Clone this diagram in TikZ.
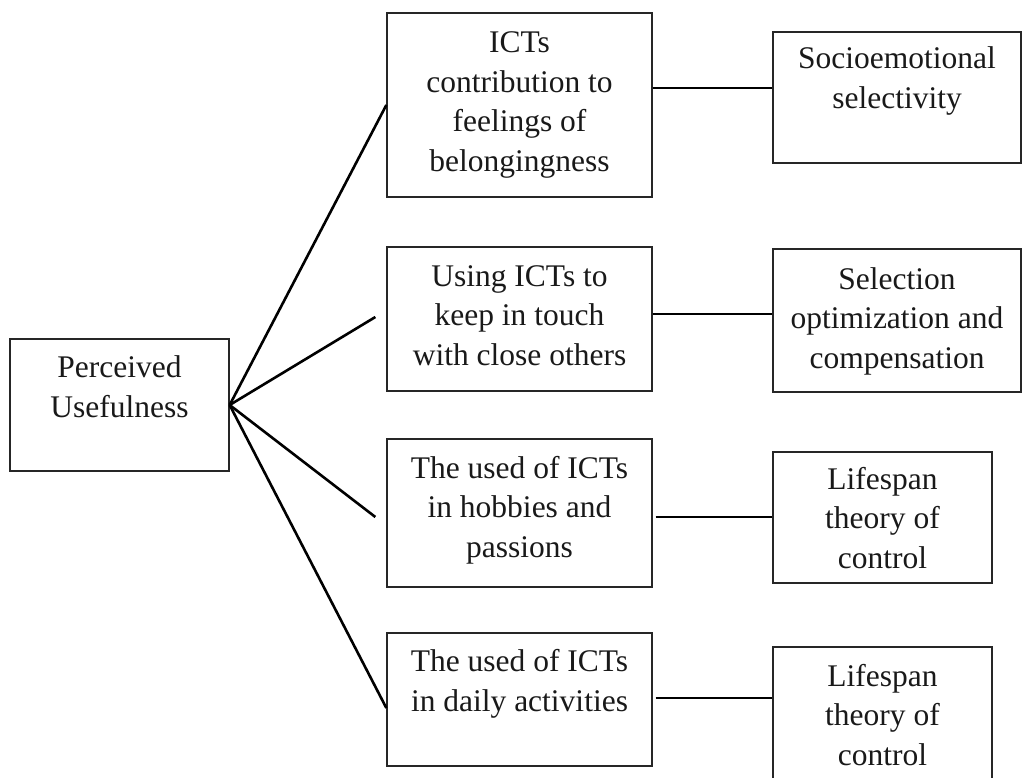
\documentclass[tikz,border=0pt]{standalone}
\usepackage{fontspec}
\setmainfont{Liberation Serif}
\usetikzlibrary{calc}
\tikzset{
  boxnode/.style={draw=black!85, line width=1.3pt, inner sep=0pt, fill=none},
  txt/.style={align=center, inner sep=0pt, anchor=base, font=\fontsize{31.5}{39.5}\selectfont, text=black!90},
  conn/.style={line width=2.6pt, black}
}
\begin{document}
\begin{tikzpicture}[x=1pt,y=-1pt]
\useasboundingbox (0,0) rectangle (1022,777);
\clip (0,0) rectangle (1022,777);
% left
\node[boxnode, minimum width=219pt, minimum height=132pt] (pu) at (119.5,405) {};
\node[txt] at (119.5,417) {Perceived\\Usefulness};
% middle
\node[boxnode, minimum width=265pt, minimum height=184pt] (m1) at (519.5,105) {};
\node[txt] at (519.5,171) {ICTs\\contribution to\\feelings of\\belongingness};
\node[boxnode, minimum width=265pt, minimum height=144pt] (m2) at (519.5,319) {};
\node[txt] at (519.5,365) {Using ICTs to\\keep in touch\\with close others};
\node[boxnode, minimum width=265pt, minimum height=148pt] (m3) at (519.5,513) {};
\node[txt] at (519.5,557) {The used of ICTs\\in hobbies and\\passions};
\node[boxnode, minimum width=265pt, minimum height=133pt] (m4) at (519.5,699.5) {};
\node[txt] at (519.5,711) {The used of ICTs\\in daily activities};
% right
\node[boxnode, minimum width=248pt, minimum height=131pt] (r1) at (897,97.5) {};
\node[txt] at (897,108) {Socioemotional\\selectivity};
\node[boxnode, minimum width=248pt, minimum height=143pt] (r2) at (897,320.5) {};
\node[txt] at (897,368) {Selection\\optimization and\\compensation};
\node[boxnode, minimum width=219pt, minimum height=131pt] (r3) at (882.5,517.5) {};
\node[txt] at (882.5,568) {Lifespan\\theory of\\control};
\node[boxnode, minimum width=219pt, minimum height=143pt] (r4) at (882.5,718.5) {};
\node[txt] at (882.5,765) {Lifespan\\theory of\\control};
% fan connectors
\coordinate (e2) at ($(m2.west)+(-11,-2)$);
\coordinate (e3) at ($(m3.west)+(-11,4)$);
\coordinate (e4) at ($(m4.west)+(0,8.5)$);
\draw[conn] (pu.east) -- (m1.west);
\draw[conn] (pu.east) -- (e2);
\draw[conn] (pu.east) -- (e3);
\draw[conn] (pu.east) -- (e4);
% horizontal connectors
\draw[conn] (m1.east |- 0,88) -- (r1.west |- 0,88);
\draw[conn] (m2.east |- 0,314) -- (r2.west |- 0,314);
\draw[conn] ($(m3.east |- 0,517)+(3,0)$) -- (r3.west |- 0,517);
\draw[conn] ($(m4.east |- 0,698)+(3,0)$) -- (r4.west |- 0,698);
\end{tikzpicture}
\end{document}
